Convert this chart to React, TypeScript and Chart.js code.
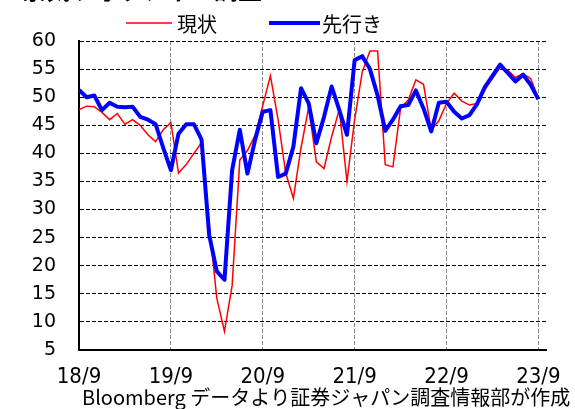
import React, { useEffect, useRef } from 'react';
import { Chart, registerables } from 'chart.js';

Chart.register(...registerables);

const TITLE = '景気ウォッチャー調査 DI';
const SOURCE = 'Bloomberg データより証券ジャパン調査情報部が作成';
const SERIES_NAMES = ['現状', '先行き'];
const SERIES_COLORS = ['#ff0000', '#0000ff'];

// monthly categories, 2018/9 .. 2023/9
const MONTHS = [
  '2018/9', '2018/10', '2018/11', '2018/12',
  '2019/1', '2019/2', '2019/3', '2019/4', '2019/5', '2019/6', '2019/7', '2019/8', '2019/9', '2019/10', '2019/11', '2019/12',
  '2020/1', '2020/2', '2020/3', '2020/4', '2020/5', '2020/6', '2020/7', '2020/8', '2020/9', '2020/10', '2020/11', '2020/12',
  '2021/1', '2021/2', '2021/3', '2021/4', '2021/5', '2021/6', '2021/7', '2021/8', '2021/9', '2021/10', '2021/11', '2021/12',
  '2022/1', '2022/2', '2022/3', '2022/4', '2022/5', '2022/6', '2022/7', '2022/8', '2022/9', '2022/10', '2022/11', '2022/12',
  '2023/1', '2023/2', '2023/3', '2023/4', '2023/5', '2023/6', '2023/7', '2023/8', '2023/9',
];

// 現状 (current conditions)
const CURRENT = [
  47.8, 48.4, 48.3, 47.3,
  46.0, 47.1, 45.2, 46.0, 45.0, 43.3, 42.1, 44.2, 45.5, 36.5, 38.0, 40.0,
  41.9, 27.4, 14.2, 8.3, 16.5, 38.8, 40.5, 43.2, 48.5, 53.8, 46.0, 36.5,
  32.0, 41.0, 48.2, 38.5, 37.3, 43.0, 47.8, 35.0, 46.0, 54.5, 58.2, 58.2,
  38.0, 37.6, 48.0, 49.5, 53.1, 52.3, 44.2, 45.8, 48.9, 50.7, 49.3, 48.6,
  48.9, 51.3, 53.3, 55.3, 54.8, 53.5, 54.2, 53.3, 49.8,
];

// 先行き (outlook)
const OUTLOOK = [
  51.3, 50.0, 50.3, 47.7,
  49.0, 48.3, 48.2, 48.3, 46.5, 46.0, 45.2, 41.0, 37.0, 43.5, 45.2, 45.2,
  42.5, 25.5, 19.0, 17.5, 37.0, 44.2, 36.4, 42.4, 47.4, 47.7, 35.8, 36.4,
  41.2, 51.6, 48.9, 41.8, 46.5, 51.9, 47.7, 43.3, 56.6, 57.3, 55.0, 50.3,
  44.0, 46.0, 48.4, 48.6, 51.2, 48.0, 43.9, 49.0, 49.2, 47.4, 46.2, 46.8,
  48.8, 51.8, 53.8, 55.8, 54.3, 52.8, 54.0, 52.2, 49.6,
];

const X_TICK_POSITIONS = [0, 12, 24, 36, 48, 60];
const X_TICK_LABELS = ['18/9', '19/9', '20/9', '21/9', '22/9', '23/9'];
const Y_MIN = 5;
const Y_MAX = 60;
const Y_STEP = 5;

const decorations = {
  id: 'decorations',
  afterDraw(chart: any) {
    const ctx = chart.ctx;
    ctx.save();
    // title (cut off at the top as in the source image)
    ctx.fillStyle = '#000';
    ctx.font = 'bold 24px "Noto Sans CJK JP"';
    ctx.textBaseline = 'alphabetic';
    ctx.textAlign = 'left';
    ctx.fillText(TITLE, 22, -1);

    // legend
    const ly = 23;
    ctx.font = '20px "Noto Sans CJK JP"';
    ctx.textBaseline = 'middle';
    const items = [
      { x1: 126, x2: 172, tx: 177, w: 1.5 },
      { x1: 269, x2: 320, tx: 322, w: 4 },
    ];
    items.forEach((it, i) => {
      ctx.strokeStyle = SERIES_COLORS[i];
      ctx.lineWidth = it.w;
      ctx.beginPath();
      ctx.moveTo(it.x1, ly);
      ctx.lineTo(it.x2, ly);
      ctx.stroke();
      ctx.fillStyle = '#000';
      ctx.fillText(SERIES_NAMES[i], it.tx, ly + 1);
    });

    // source note
    ctx.font = '20px "Noto Sans CJK JP"';
    ctx.textBaseline = 'alphabetic';
    ctx.fillStyle = '#000';
    ctx.fillText(SOURCE, 82, 405);
    ctx.restore();
  },
};

export default function App() {
  const canvasRef = useRef<HTMLCanvasElement | null>(null);

  useEffect(() => {
    document.body.style.margin = '0';
    document.body.style.overflow = 'hidden';
    const canvas = canvasRef.current;
    if (!canvas) return;

    const chart = new Chart(canvas, {
      type: 'line',
      data: {
        datasets: [
          {
            label: SERIES_NAMES[0],
            data: CURRENT.map((v, i) => ({ x: i, y: v })),
            borderColor: SERIES_COLORS[0],
            backgroundColor: SERIES_COLORS[0],
            borderWidth: 1.5,
            pointRadius: 0,
            tension: 0,
            order: 2,
          },
          {
            label: SERIES_NAMES[1],
            data: OUTLOOK.map((v, i) => ({ x: i, y: v })),
            borderColor: SERIES_COLORS[1],
            backgroundColor: SERIES_COLORS[1],
            borderWidth: 4,
            borderJoinStyle: 'round',
            pointRadius: 0,
            tension: 0,
            order: 1,
          },
        ],
      },
      options: {
        responsive: false,
        animation: false,
        devicePixelRatio: 1,
        layout: { padding: { top: 41, right: 24, left: 0, bottom: 0 } },
        plugins: {
          legend: { display: false },
          title: { display: false },
          tooltip: { enabled: false },
        },
        scales: {
          x: {
            type: 'linear',
            min: 0,
            max: 61,
            afterBuildTicks: (scale: any) => {
              scale.ticks = X_TICK_POSITIONS.map((v) => ({ value: v }));
            },
            afterFit: (scale: any) => {
              scale.height = 59;
            },
            ticks: {
              autoSkip: false,
              maxRotation: 0,
              minRotation: 0,
              padding: 14,
              color: '#000',
              font: { family: '"DejaVu Sans Condensed", "DejaVu Sans"', size: 22 },
              callback: (value: any) => {
                const idx = X_TICK_POSITIONS.indexOf(Number(value));
                return idx >= 0 ? X_TICK_LABELS[idx] : '';
              },
            },
            grid: {
              drawTicks: false,
              lineWidth: 1,
              color: (c: any) => (c.tick && c.tick.value === 0 ? 'rgba(0,0,0,0)' : '#8a8a8a'),
            },
            border: { display: true, color: '#000', width: 2, dash: [4, 2] },
          },
          y: {
            min: Y_MIN,
            max: Y_MAX,
            afterFit: (scale: any) => {
              scale.width = 79;
            },
            ticks: {
              stepSize: Y_STEP,
              padding: 23,
              color: '#000',
              font: { family: '"DejaVu Sans"', size: 19 },
            },
            grid: {
              drawTicks: false,
              lineWidth: 1,
              color: '#000',
            },
            border: { display: true, color: '#000', width: 2, dash: [4, 2] },
          },
        },
      },
      plugins: [decorations],
    });

    return () => {
      chart.destroy();
    };
  }, []);

  return (
    <div style={{ width: 575, height: 409, overflow: 'hidden' }}>
      <canvas ref={canvasRef} width={575} height={409} style={{ display: 'block' }} />
    </div>
  );
}
